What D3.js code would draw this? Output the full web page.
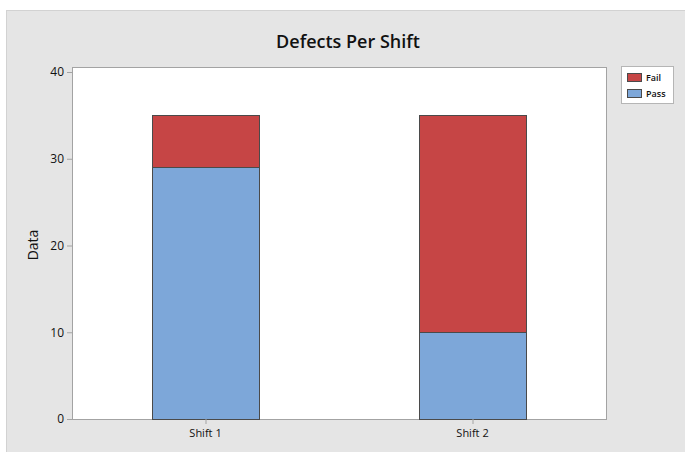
<!DOCTYPE html>
<html lang="en">
<head>
    <meta charset="UTF-8">
    <title>Defects Per Shift</title>
    <script src="https://cdn.jsdelivr.net/npm/d3@7/dist/d3.min.js"></script>
    <style>
        body { margin: 0; background: #fff; }
        text { font-family: "Open Sans", "DejaVu Sans", sans-serif; fill: #111; }
    </style>
</head>
<body>
<script>
    // chart data
    const shifts = ['Shift 1', 'Shift 2'];
    const passValues = [29, 10];
    const failValues = [6, 25];
    const yTicks = [0, 10, 20, 30, 40];
    const seriesNames = ['Fail', 'Pass'];
    const seriesColors = ['#c64545', '#7da7d9'];

    const width = 685;
    const height = 452;

    const svg = d3.select('body')
        .append('svg')
        .attr('width', width)
        .attr('height', height);

    // gray panel
    svg.append('rect')
        .attr('x', 6.5).attr('y', 10.5)
        .attr('width', width).attr('height', height)
        .attr('fill', '#e5e5e5')
        .attr('stroke', '#d2d2d2');

    const plot = {left: 72, right: 606, top: 67, bottom: 419};

    const x = d3.scaleBand()
        .domain(shifts)
        .range([plot.left, plot.right])
        .paddingInner(0.6)
        .paddingOuter(0.3);

    const y = d3.scaleLinear()
        .domain([0, 40])
        .range([plot.bottom, 72]);

    // plot area
    svg.append('rect')
        .attr('x', plot.left + 0.5).attr('y', plot.top + 0.5)
        .attr('width', plot.right - plot.left).attr('height', plot.bottom - plot.top)
        .attr('fill', '#fff')
        .attr('stroke', '#a3a3a3');

    // stacked bars
    const rows = shifts.map((s, i) => ({shift: s, Pass: passValues[i], Fail: failValues[i]}));
    const stack = d3.stack().keys(['Pass', 'Fail'])(rows);
    const color = d3.scaleOrdinal().domain(seriesNames).range(seriesColors);

    svg.append('g')
        .selectAll('g')
        .data(stack)
        .join('g')
        .attr('fill', d => color(d.key))
        .selectAll('rect')
        .data(d => d)
        .join('rect')
        .attr('x', d => Math.round(x(d.data.shift)) + 0.5)
        .attr('y', d => Math.round(y(d[1])) + 0.5)
        .attr('width', Math.round(x.bandwidth()))
        .attr('height', d => Math.round(y(d[0])) - Math.round(y(d[1])))
        .attr('stroke', '#4a4a4a')
        .attr('stroke-width', 1);

    // y axis
    const yAxis = svg.append('g')
        .attr('transform', `translate(${plot.left},0)`)
        .call(d3.axisLeft(y).tickValues(yTicks).tickSize(5).tickPadding(3));
    yAxis.select('.domain').remove();
    yAxis.selectAll('line').attr('stroke', '#a3a3a3');
    yAxis.selectAll('text').attr('font-size', 12).attr('fill', '#111');

    // x axis
    const xAxis = svg.append('g')
        .attr('transform', `translate(0,${plot.bottom})`)
        .call(d3.axisBottom(x).tickSize(5).tickPadding(5));
    xAxis.select('.domain').remove();
    xAxis.selectAll('line').attr('stroke', '#a3a3a3').attr('transform', 'translate(0.5,0)');
    xAxis.selectAll('text').attr('font-size', 11).attr('fill', '#111');

    // title
    svg.append('text')
        .attr('x', 348).attr('y', 48)
        .attr('text-anchor', 'middle')
        .attr('font-size', 18)
        .attr('font-weight', 600)
        .text('Defects Per Shift');

    // y label
    svg.append('text')
        .attr('transform', 'translate(38,245) rotate(-90)')
        .attr('text-anchor', 'middle')
        .attr('font-size', 14)
        .text('Data');

    // legend
    const legend = svg.append('g');
    legend.append('rect')
        .attr('x', 621.5).attr('y', 66.5)
        .attr('width', 52).attr('height', 37)
        .attr('fill', '#fff')
        .attr('stroke', '#b5b5b5');
    const items = legend.selectAll('g.item')
        .data(seriesNames)
        .join('g')
        .attr('class', 'item')
        .attr('transform', (d, i) => `translate(627,${73 + i * 16})`);
    items.append('rect')
        .attr('x', 0.5).attr('y', 0.5)
        .attr('width', 14).attr('height', 8)
        .attr('fill', d => color(d))
        .attr('stroke', '#4a4a4a');
    items.append('text')
        .attr('x', 19).attr('y', 8)
        .attr('font-size', 9)
        .attr('font-weight', 600)
        .text(d => d);
</script>
</body>
</html>
